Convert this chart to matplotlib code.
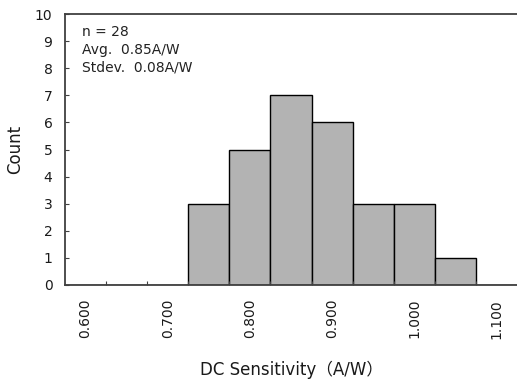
import matplotlib.pyplot as plt
import numpy as np

# datos del histograma (bins de 0.05 A/W)
bins = ['0.600', '0.650', '0.700', '0.750', '0.800', '0.850',
        '0.900', '0.950', '1.000', '1.050', '1.100']
counts = [0, 0, 0, 3, 5, 7, 6, 3, 3, 1, 0]
stats_text = ['n = 28', 'Avg.  0.85A/W', 'Stdev.  0.08A/W']

plt.rcParams['font.family'] = ['DejaVu Sans', 'Noto Sans CJK JP']

fig = plt.figure(figsize=(5.17, 3.81), dpi=100)
ax = fig.add_axes([65/517, 96/381, 452/517, 271/381])

x = np.arange(len(bins))
ax.bar(x, counts, width=1.0, color='#b3b3b3', edgecolor='black', linewidth=1.0)

ax.set_xlim(-0.5, len(bins) - 0.5)
ax.set_ylim(0, 10)
ax.set_yticks(range(0, 11))

# etiquetas solo cada 0.100
ax.set_xticks(x)
ax.set_xticklabels([b if i % 2 == 0 else '' for i, b in enumerate(bins)], rotation=90)
ax.set_xticks(x[:-1] + 0.5, minor=True)
ax.tick_params(axis='x', which='major', length=0, pad=10, labelsize=10, labelcolor='#1a1a1a')
ax.tick_params(axis='x', which='minor', direction='in', length=3, width=0.8, color='#404040')
ax.tick_params(axis='y', direction='in', length=3, width=0.8, color='#404040', pad=9,
               labelsize=10, labelcolor='#1a1a1a')

for lado in ['left', 'bottom', 'top']:
    ax.spines[lado].set_color('#404040')
    ax.spines[lado].set_linewidth(1.3)
ax.spines['right'].set_visible(False)

ax.set_ylabel('Count', fontsize=12, labelpad=8, color='#1a1a1a')
ax.set_xlabel('DC Sensitivity（A/W）', fontsize=12, labelpad=16, color='#1a1a1a')

ax.text(0.038, 0.96, '\n'.join(stats_text), transform=ax.transAxes,
        fontsize=10, va='top', ha='left', linespacing=1.36, color='#222222')

fig.savefig('out.png', dpi=100)
